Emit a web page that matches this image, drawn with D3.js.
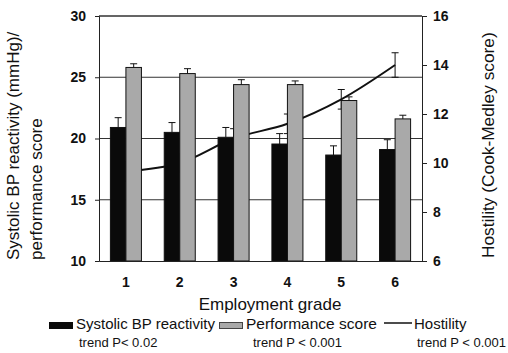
<!DOCTYPE html>
<html><head><meta charset="utf-8">
<script src="https://cdn.jsdelivr.net/npm/d3@7"></script>
<style>body{margin:0;background:#fff}svg{display:block}text{font-family:"Liberation Sans",Arial,sans-serif;fill:#111}</style>
</head><body><svg id="c" width="508" height="353"></svg>
<script>
const grades = ["1","2","3","4","5","6"];
const bpReactivity = [20.9, 20.5, 20.1, 19.55, 18.65, 19.1];
const bpError = [0.8, 0.8, 0.8, 0.85, 0.75, 0.8];
const performance = [25.8, 25.3, 24.4, 24.4, 23.1, 21.6];
const perfError = [0.3, 0.4, 0.4, 0.3, 0.3, 0.3];
const hostility = [9.65, 10.0, 11.0, 11.6, 12.6, 14.0];
const hostError = [0.4, 0.4, 0.4, 0.4, 0.4, 0.5];
const leftTicks = [10, 15, 20, 25, 30];
const rightTicks = [6, 8, 10, 12, 14, 16];

const svg = d3.select("#c");
const L = 99, R = 422, T = 16, B = 261;
const x = d3.scaleBand().domain(grades).range([L, R]).padding(0);
const xs = d3.scaleBand().domain(["bp","perf"]).range([0, x.bandwidth()]).paddingInner(0).paddingOuter(0.735);
const yL = d3.scaleLinear().domain([10, 30]).range([B, T]);
const yR = d3.scaleLinear().domain([6, 16]).range([B, T]);

// gridlines
svg.append("g").selectAll("line").data(leftTicks.filter(d => d > 10)).join("line")
  .attr("x1", L).attr("x2", R).attr("y1", d => yL(d)).attr("y2", d => yL(d))
  .attr("stroke", "#333").attr("stroke-width", 1);

// hostility line (behind bars)
const cx = d => x(d) + x.bandwidth() / 2;
const line = d3.line().x((d, i) => cx(grades[i])).y(d => yR(d)).curve(d3.curveCatmullRom.alpha(0.5));
svg.append("path").datum(hostility).attr("d", line).attr("fill", "none").attr("stroke", "#111").attr("stroke-width", 2);
const he = svg.append("g").attr("stroke", "#111").attr("stroke-width", 1);
hostility.forEach((v, i) => {
  const xc = cx(grades[i]);
  he.append("line").attr("x1", xc).attr("x2", xc).attr("y1", yR(v - hostError[i])).attr("y2", yR(v + hostError[i]));
  he.append("line").attr("x1", xc - 3.5).attr("x2", xc + 3.5).attr("y1", yR(v + hostError[i])).attr("y2", yR(v + hostError[i]));
  he.append("line").attr("x1", xc - 3.5).attr("x2", xc + 3.5).attr("y1", yR(v - hostError[i])).attr("y2", yR(v - hostError[i]));
});

// bars
function drawBars(key, vals, errs, fill) {
  const g = svg.append("g");
  g.selectAll("rect").data(vals).join("rect")
    .attr("x", (d, i) => x(grades[i]) + xs(key))
    .attr("width", xs.bandwidth())
    .attr("y", d => yL(d)).attr("height", d => B - yL(d))
    .attr("fill", fill).attr("stroke", "#111").attr("stroke-width", 1);
  vals.forEach((v, i) => {
    const xc = x(grades[i]) + xs(key) + xs.bandwidth() / 2;
    g.append("line").attr("x1", xc).attr("x2", xc).attr("y1", yL(v)).attr("y2", yL(v + errs[i])).attr("stroke", "#111");
    g.append("line").attr("x1", xc - 3.5).attr("x2", xc + 3.5).attr("y1", yL(v + errs[i])).attr("y2", yL(v + errs[i])).attr("stroke", "#111");
  });
}
drawBars("bp", bpReactivity, bpError, "#0a0a0a");
drawBars("perf", performance, perfError, "#a9a9a9");

// top border
svg.append("line").attr("x1", L).attr("x2", R).attr("y1", T).attr("y2", T).attr("stroke", "#333");

// axes
const axL = svg.append("g").attr("transform", `translate(${L},0)`)
  .call(d3.axisLeft(yL).tickValues(leftTicks).tickSize(4).tickPadding(9));
const axR = svg.append("g").attr("transform", `translate(${R},0)`)
  .call(d3.axisRight(yR).tickValues(rightTicks).tickSize(5).tickPadding(6));
const axB = svg.append("g").attr("transform", `translate(0,${B})`)
  .call(d3.axisBottom(x).tickSize(0).tickPadding(16));
[axL, axR, axB].forEach(a => {
  a.select(".domain").attr("stroke", "#222");
  a.selectAll(".tick line").attr("stroke", "#222");
  a.selectAll(".tick text").attr("font-size", 14).attr("font-weight", "bold")
    .attr("font-family", "'Liberation Sans',Arial,sans-serif").attr("fill", "#111");
});

// titles
svg.append("text").attr("transform", "translate(19,260) rotate(-90)").attr("text-anchor", "start")
  .attr("font-size", 17).text("Systolic BP reactivity (mmHg)/");
svg.append("text").attr("transform", "translate(42,260) rotate(-90)").attr("text-anchor", "start")
  .attr("font-size", 17).text("performance score");
svg.append("text").attr("transform", "translate(494,258) rotate(-90)").attr("text-anchor", "start")
  .attr("font-size", 17.3).text("Hostility (Cook-Medley score)");
svg.append("text").attr("x", 270).attr("y", 310).attr("text-anchor", "middle")
  .attr("font-size", 17).text("Employment grade");

// legend
const lg = svg.append("g");
lg.append("rect").attr("x", 49).attr("y", 322).attr("width", 24).attr("height", 7).attr("fill", "#0a0a0a");
lg.append("text").attr("x", 76).attr("y", 329).attr("font-size", 15).text("Systolic BP reactivity");
lg.append("rect").attr("x", 219.5).attr("y", 322.5).attr("width", 23).attr("height", 6).attr("fill", "#a9a9a9").attr("stroke", "#444");
lg.append("text").attr("x", 246).attr("y", 329).attr("font-size", 15.5).text("Performance score");
lg.append("line").attr("x1", 384).attr("x2", 412).attr("y1", 323).attr("y2", 323).attr("stroke", "#111").attr("stroke-width", 1.5);
lg.append("text").attr("x", 414).attr("y", 329).attr("font-size", 15).text("Hostility");
lg.append("text").attr("x", 79).attr("y", 347).attr("font-size", 13).text("trend P< 0.02");
lg.append("text").attr("x", 253).attr("y", 347).attr("font-size", 13).text("trend P < 0.001");
lg.append("text").attr("x", 417).attr("y", 347).attr("font-size", 13).text("trend P < 0.001");
</script></body></html>
